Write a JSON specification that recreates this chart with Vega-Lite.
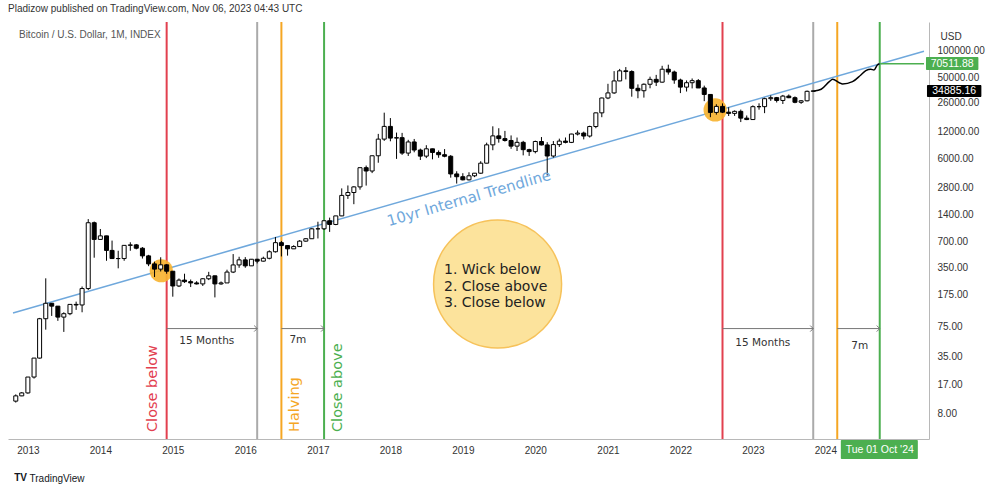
{
  "$schema": "https://vega.github.io/schema/vega-lite/v6.json",
  "width": 921,
  "height": 417,
  "autosize": {"type": "none"},
  "padding": {"left": 8, "top": 22, "right": 71, "bottom": 53},
  "background": "white",
  "config": {"view": {"stroke": null}},
  "title": {
    "text": "Pladizow published on TradingView.com, Nov 06, 2023 04:43 UTC",
    "anchor": "start",
    "frame": "group",
    "offset": 7,
    "font": "Liberation Sans",
    "fontSize": 10,
    "fontWeight": "normal",
    "color": "#333333"
  },
  "datasets": {
    "candles": [
      {"d": "2012-11-01", "o": 10.9, "h": 13.0, "l": 10.5, "c": 12.5},
      {"d": "2012-12-01", "o": 12.5, "h": 13.8, "l": 12.4, "c": 13.5},
      {"d": "2013-01-01", "o": 13.5, "h": 20.4, "l": 13.2, "c": 20.4},
      {"d": "2013-02-01", "o": 20.4, "h": 33.5, "l": 19.6, "c": 33.4},
      {"d": "2013-03-01", "o": 33.4, "h": 95, "l": 33, "c": 93},
      {"d": "2013-04-01", "o": 93, "h": 266, "l": 70, "c": 139},
      {"d": "2013-05-01", "o": 139, "h": 140, "l": 100, "c": 129},
      {"d": "2013-06-01", "o": 129, "h": 129, "l": 88, "c": 97},
      {"d": "2013-07-01", "o": 97, "h": 110, "l": 66, "c": 106},
      {"d": "2013-08-01", "o": 106, "h": 135, "l": 102, "c": 135},
      {"d": "2013-09-01", "o": 135, "h": 145, "l": 117, "c": 133},
      {"d": "2013-10-01", "o": 133, "h": 215, "l": 110, "c": 204},
      {"d": "2013-11-01", "o": 204, "h": 1242, "l": 196, "c": 1130},
      {"d": "2013-12-01", "o": 1130, "h": 1165, "l": 455, "c": 732},
      {"d": "2014-01-01", "o": 732, "h": 960, "l": 730, "c": 803},
      {"d": "2014-02-01", "o": 803, "h": 805, "l": 420, "c": 550},
      {"d": "2014-03-01", "o": 550, "h": 710, "l": 440, "c": 445},
      {"d": "2014-04-01", "o": 445, "h": 545, "l": 345, "c": 445},
      {"d": "2014-05-01", "o": 445, "h": 630, "l": 420, "c": 627},
      {"d": "2014-06-01", "o": 627, "h": 680, "l": 545, "c": 635},
      {"d": "2014-07-01", "o": 635, "h": 650, "l": 565, "c": 582},
      {"d": "2014-08-01", "o": 582, "h": 600, "l": 445, "c": 477},
      {"d": "2014-09-01", "o": 477, "h": 490, "l": 365, "c": 387},
      {"d": "2014-10-01", "o": 387, "h": 410, "l": 275, "c": 338},
      {"d": "2014-11-01", "o": 338, "h": 460, "l": 318, "c": 378},
      {"d": "2014-12-01", "o": 378, "h": 385, "l": 300, "c": 320},
      {"d": "2015-01-01", "o": 320, "h": 320, "l": 165, "c": 218},
      {"d": "2015-02-01", "o": 218, "h": 265, "l": 212, "c": 254},
      {"d": "2015-03-01", "o": 254, "h": 300, "l": 236, "c": 244},
      {"d": "2015-04-01", "o": 244, "h": 258, "l": 212, "c": 236},
      {"d": "2015-05-01", "o": 236, "h": 247, "l": 227, "c": 230},
      {"d": "2015-06-01", "o": 230, "h": 267, "l": 218, "c": 263},
      {"d": "2015-07-01", "o": 263, "h": 315, "l": 254, "c": 284},
      {"d": "2015-08-01", "o": 284, "h": 285, "l": 162, "c": 230},
      {"d": "2015-09-01", "o": 230, "h": 245, "l": 225, "c": 236},
      {"d": "2015-10-01", "o": 236, "h": 333, "l": 236, "c": 313},
      {"d": "2015-11-01", "o": 313, "h": 500, "l": 305, "c": 377},
      {"d": "2015-12-01", "o": 377, "h": 466, "l": 350, "c": 430},
      {"d": "2016-01-01", "o": 430, "h": 462, "l": 350, "c": 368},
      {"d": "2016-02-01", "o": 368, "h": 440, "l": 367, "c": 437},
      {"d": "2016-03-01", "o": 437, "h": 441, "l": 392, "c": 416},
      {"d": "2016-04-01", "o": 416, "h": 467, "l": 412, "c": 448},
      {"d": "2016-05-01", "o": 448, "h": 551, "l": 436, "c": 531},
      {"d": "2016-06-01", "o": 531, "h": 780, "l": 520, "c": 673},
      {"d": "2016-07-01", "o": 673, "h": 704, "l": 470, "c": 624},
      {"d": "2016-08-01", "o": 624, "h": 630, "l": 480, "c": 573},
      {"d": "2016-09-01", "o": 573, "h": 629, "l": 570, "c": 608},
      {"d": "2016-10-01", "o": 608, "h": 720, "l": 603, "c": 700},
      {"d": "2016-11-01", "o": 700, "h": 756, "l": 690, "c": 745},
      {"d": "2016-12-01", "o": 745, "h": 980, "l": 744, "c": 964},
      {"d": "2017-01-01", "o": 964, "h": 1160, "l": 750, "c": 965},
      {"d": "2017-02-01", "o": 965, "h": 1200, "l": 935, "c": 1190},
      {"d": "2017-03-01", "o": 1190, "h": 1290, "l": 890, "c": 1080},
      {"d": "2017-04-01", "o": 1080, "h": 1350, "l": 1060, "c": 1350},
      {"d": "2017-05-01", "o": 1350, "h": 2760, "l": 1340, "c": 2300},
      {"d": "2017-06-01", "o": 2300, "h": 2980, "l": 2100, "c": 2480},
      {"d": "2017-07-01", "o": 2480, "h": 2920, "l": 1830, "c": 2870},
      {"d": "2017-08-01", "o": 2870, "h": 4750, "l": 2670, "c": 4730},
      {"d": "2017-09-01", "o": 4730, "h": 5000, "l": 2970, "c": 4340},
      {"d": "2017-10-01", "o": 4340, "h": 6470, "l": 4110, "c": 6450},
      {"d": "2017-11-01", "o": 6450, "h": 11400, "l": 5380, "c": 9950},
      {"d": "2017-12-01", "o": 9950, "h": 19800, "l": 9500, "c": 13850},
      {"d": "2018-01-01", "o": 13850, "h": 17200, "l": 9400, "c": 10220},
      {"d": "2018-02-01", "o": 10220, "h": 11790, "l": 5950, "c": 10330},
      {"d": "2018-03-01", "o": 10330, "h": 11700, "l": 6600, "c": 6920},
      {"d": "2018-04-01", "o": 6920, "h": 9770, "l": 6420, "c": 9240},
      {"d": "2018-05-01", "o": 9240, "h": 9990, "l": 7060, "c": 7490},
      {"d": "2018-06-01", "o": 7490, "h": 7770, "l": 5780, "c": 6390},
      {"d": "2018-07-01", "o": 6390, "h": 8490, "l": 6070, "c": 7730},
      {"d": "2018-08-01", "o": 7730, "h": 7750, "l": 5880, "c": 7030},
      {"d": "2018-09-01", "o": 7030, "h": 7410, "l": 6120, "c": 6630},
      {"d": "2018-10-01", "o": 6630, "h": 7680, "l": 6200, "c": 6370},
      {"d": "2018-11-01", "o": 6370, "h": 6570, "l": 3650, "c": 4020},
      {"d": "2018-12-01", "o": 4020, "h": 4310, "l": 3130, "c": 3740},
      {"d": "2019-01-01", "o": 3740, "h": 4100, "l": 3400, "c": 3450},
      {"d": "2019-02-01", "o": 3450, "h": 4200, "l": 3390, "c": 3830},
      {"d": "2019-03-01", "o": 3830, "h": 4120, "l": 3700, "c": 4100},
      {"d": "2019-04-01", "o": 4100, "h": 5600, "l": 4050, "c": 5320},
      {"d": "2019-05-01", "o": 5320, "h": 9070, "l": 5320, "c": 8570},
      {"d": "2019-06-01", "o": 8570, "h": 13880, "l": 7450, "c": 10820},
      {"d": "2019-07-01", "o": 10820, "h": 13200, "l": 9070, "c": 10080},
      {"d": "2019-08-01", "o": 10080, "h": 12320, "l": 9330, "c": 9600},
      {"d": "2019-09-01", "o": 9600, "h": 10950, "l": 7730, "c": 8290},
      {"d": "2019-10-01", "o": 8290, "h": 10370, "l": 7300, "c": 9150},
      {"d": "2019-11-01", "o": 9150, "h": 9510, "l": 6520, "c": 7560},
      {"d": "2019-12-01", "o": 7560, "h": 7740, "l": 6430, "c": 7190},
      {"d": "2020-01-01", "o": 7190, "h": 9560, "l": 6870, "c": 9350},
      {"d": "2020-02-01", "o": 9350, "h": 10500, "l": 8450, "c": 8550},
      {"d": "2020-03-01", "o": 8550, "h": 9190, "l": 3850, "c": 6410},
      {"d": "2020-04-01", "o": 6410, "h": 9460, "l": 6150, "c": 8630},
      {"d": "2020-05-01", "o": 8630, "h": 10070, "l": 8120, "c": 9450},
      {"d": "2020-06-01", "o": 9450, "h": 10380, "l": 8910, "c": 9140},
      {"d": "2020-07-01", "o": 9140, "h": 11430, "l": 8980, "c": 11350},
      {"d": "2020-08-01", "o": 11350, "h": 12470, "l": 10950, "c": 11650},
      {"d": "2020-09-01", "o": 11650, "h": 12080, "l": 9880, "c": 10780},
      {"d": "2020-10-01", "o": 10780, "h": 14100, "l": 10370, "c": 13800},
      {"d": "2020-11-01", "o": 13800, "h": 19800, "l": 13200, "c": 19700},
      {"d": "2020-12-01", "o": 19700, "h": 29300, "l": 17600, "c": 28990},
      {"d": "2021-01-01", "o": 28990, "h": 41950, "l": 28130, "c": 33100},
      {"d": "2021-02-01", "o": 33100, "h": 58350, "l": 32300, "c": 45200},
      {"d": "2021-03-01", "o": 45200, "h": 61780, "l": 44950, "c": 58800},
      {"d": "2021-04-01", "o": 58800, "h": 64850, "l": 47040, "c": 57700},
      {"d": "2021-05-01", "o": 57700, "h": 59590, "l": 30000, "c": 37300},
      {"d": "2021-06-01", "o": 37300, "h": 41300, "l": 28800, "c": 35040},
      {"d": "2021-07-01", "o": 35040, "h": 42320, "l": 29300, "c": 41460},
      {"d": "2021-08-01", "o": 41460, "h": 50500, "l": 37330, "c": 47100},
      {"d": "2021-09-01", "o": 47100, "h": 52900, "l": 39600, "c": 43800},
      {"d": "2021-10-01", "o": 43800, "h": 67000, "l": 43300, "c": 61300},
      {"d": "2021-11-01", "o": 61300, "h": 69000, "l": 53250, "c": 57000},
      {"d": "2021-12-01", "o": 57000, "h": 59100, "l": 42000, "c": 46300},
      {"d": "2022-01-01", "o": 46300, "h": 47950, "l": 32950, "c": 38480},
      {"d": "2022-02-01", "o": 38480, "h": 45800, "l": 34300, "c": 43160},
      {"d": "2022-03-01", "o": 43160, "h": 48200, "l": 37200, "c": 45540},
      {"d": "2022-04-01", "o": 45540, "h": 47450, "l": 37700, "c": 37650},
      {"d": "2022-05-01", "o": 37650, "h": 40000, "l": 26700, "c": 31800},
      {"d": "2022-06-01", "o": 31800, "h": 31900, "l": 17600, "c": 19930},
      {"d": "2022-07-01", "o": 19930, "h": 24650, "l": 18800, "c": 23300},
      {"d": "2022-08-01", "o": 23300, "h": 25200, "l": 19600, "c": 20050},
      {"d": "2022-09-01", "o": 20050, "h": 22800, "l": 18150, "c": 19430},
      {"d": "2022-10-01", "o": 19430, "h": 20990, "l": 18200, "c": 20490},
      {"d": "2022-11-01", "o": 20490, "h": 21450, "l": 15500, "c": 17170},
      {"d": "2022-12-01", "o": 17170, "h": 18400, "l": 16300, "c": 16550},
      {"d": "2023-01-01", "o": 16550, "h": 23950, "l": 16500, "c": 23130},
      {"d": "2023-02-01", "o": 23130, "h": 25250, "l": 21400, "c": 23150},
      {"d": "2023-03-01", "o": 23150, "h": 29180, "l": 19550, "c": 28480},
      {"d": "2023-04-01", "o": 28480, "h": 31000, "l": 26900, "c": 29250},
      {"d": "2023-05-01", "o": 29250, "h": 29800, "l": 25800, "c": 27200},
      {"d": "2023-06-01", "o": 27200, "h": 31400, "l": 24800, "c": 30480},
      {"d": "2023-07-01", "o": 30480, "h": 31800, "l": 28860, "c": 29230},
      {"d": "2023-08-01", "o": 29230, "h": 30200, "l": 25300, "c": 25940},
      {"d": "2023-09-01", "o": 25940, "h": 27480, "l": 24900, "c": 26960},
      {"d": "2023-10-01", "o": 26960, "h": 35200, "l": 26550, "c": 34500},
      {"d": "2023-11-01", "o": 34500, "h": 35300, "l": 34100, "c": 34885.16}
    ],
    "vlines": [
      {"d": "2014-12-01", "k": "below"},
      {"d": "2016-03-01", "k": "months"},
      {"d": "2016-07-01", "k": "halving"},
      {"d": "2017-02-01", "k": "above"},
      {"d": "2022-08-01", "k": "below"},
      {"d": "2023-11-01", "k": "months"},
      {"d": "2024-03-01", "k": "halving"},
      {"d": "2024-10-01", "k": "above"}
    ],
    "trend": [
      {"d": "2012-10-18", "p": 108},
      {"d": "2025-05-12", "p": 98000}
    ],
    "projection": [
      {"d": "2023-11-06", "p": 34885.16},
      {"d": "2023-12-11", "p": 36370},
      {"d": "2024-01-21", "p": 44330},
      {"d": "2024-02-07", "p": 47180},
      {"d": "2024-03-11", "p": 43180},
      {"d": "2024-03-28", "p": 41750},
      {"d": "2024-05-17", "p": 44330},
      {"d": "2024-06-28", "p": 52770},
      {"d": "2024-07-23", "p": 59020},
      {"d": "2024-08-17", "p": 61190},
      {"d": "2024-09-02", "p": 60090},
      {"d": "2024-09-19", "p": 68440},
      {"d": "2024-10-01", "p": 70511.88}
    ],
    "hot": [
      {"d": "2014-11-04", "p": 324},
      {"d": "2022-06-25", "p": 21250}
    ],
    "bigcircle": [
      {"d": "2019-06-25", "p": 229.4}
    ],
    "target": [
      {"d": "2024-10-01", "d2": "2025-05-12", "p": 70511.88}
    ],
    "arrows": [
      {"d": "2014-12-01", "d2": "2016-03-01", "p": 72},
      {"d": "2016-07-01", "d2": "2017-02-01", "p": 72},
      {"d": "2022-08-01", "d2": "2023-11-01", "p": 72},
      {"d": "2024-03-01", "d2": "2024-10-01", "p": 72}
    ],
    "rotlabels": [
      {"d": "2014-09-25", "p": 4.88, "t": "Close below", "k": "below"},
      {"d": "2016-09-08", "p": 4.88, "t": "Halving", "k": "halving"},
      {"d": "2017-04-13", "p": 4.88, "t": "Close above", "k": "above"}
    ],
    "spanlabels": [
      {"d": "2015-06-21", "p": 52, "t": "15 Months"},
      {"d": "2016-09-22", "p": 53.4, "t": "7m"},
      {"d": "2023-02-20", "p": 49.8, "t": "15 Months"},
      {"d": "2024-06-22", "p": 45.8, "t": "7m"}
    ],
    "trendlabel": [
      {"d": "2019-02-01", "p": 2150, "t": "10yr Internal Trendline"}
    ],
    "circletext": [
      {"d": "2018-09-28", "p": 330, "t": "1. Wick below\n2. Close above\n3. Close below"}
    ],
    "header": [
      {"d": "2012-11-17", "p": 149300, "t": "Bitcoin / U.S. Dollar, 1M, INDEX"}
    ],
    "logo": [
      {"d": "2012-11-25", "p": 1.476, "t": "TV"}
    ],
    "boxes": [
      {"d": "2025-05-22", "d2": "2026-02-10", "p": 84300, "p2": 60100, "k": "trend"},
      {"d": "2025-05-27", "d2": "2026-02-25", "p": 40660, "p2": 29770, "k": "price"},
      {"d": "2024-03-19", "d2": "2025-04-11", "p": 3.96, "p2": 2.42, "k": "trend"}
    ],
    "boxtext": [
      {"d": "2025-10-01", "p": 70511.88, "t": "70511.88"},
      {"d": "2025-10-11", "p": 34885.16, "t": "34885.16"},
      {"d": "2024-10-01", "p": 3.05, "t": "Tue 01 Oct '24"}
    ]
  },
  "layer": [
    {
      "data": {"name": "vlines"},
      "mark": {"type": "rule", "strokeWidth": 2},
      "encoding": {
        "x": {
          "field": "d", "type": "temporal",
          "scale": {"type": "utc", "domain": [{"year": 2012, "month": 10, "date": 18, "utc": true}, {"year": 2025, "month": 5, "date": 12, "utc": true}], "nice": false},
          "axis": {
            "values": [{"year": 2013, "utc": true}, {"year": 2014, "utc": true}, {"year": 2015, "utc": true}, {"year": 2016, "utc": true}, {"year": 2017, "utc": true}, {"year": 2018, "utc": true}, {"year": 2019, "utc": true}, {"year": 2020, "utc": true}, {"year": 2021, "utc": true}, {"year": 2022, "utc": true}, {"year": 2023, "utc": true}, {"year": 2024, "utc": true}],
            "format": "%Y",
            "ticks": false,
            "grid": false,
            "domainColor": "#b8b8b8",
            "labelFont": "Liberation Sans",
            "labelFontSize": 10,
            "labelColor": "#333333",
            "labelPadding": 6,
            "labelFlush": false,
            "labelOverlap": false,
            "title": "TradingView",
            "titleX": 21,
            "titleY": 39,
            "titleAlign": "left",
            "titleBaseline": "middle",
            "titleFont": "Liberation Sans",
            "titleFontSize": 10,
            "titleFontWeight": "normal",
            "titleColor": "#131722"
          }
        },
        "color": {
          "field": "k", "type": "nominal",
          "scale": {"domain": ["below", "months", "halving", "above"], "range": ["#e2404f", "#aaaaaa", "#f5a623", "#4caf50"]},
          "legend": null
        }
      }
    },
    {
      "data": {"name": "trend"},
      "mark": {"type": "line", "color": "#6fa8dc", "strokeWidth": 1.5, "clip": true},
      "encoding": {
        "x": {"field": "d", "type": "temporal"},
        "y": {"field": "p", "type": "quantitative"}
      }
    },
    {
      "data": {"name": "bigcircle"},
      "mark": {"type": "point", "shape": "circle", "filled": true, "fill": "#fce39c", "stroke": "#f6c25a", "strokeWidth": 1.5, "opacity": 1, "size": 16384},
      "encoding": {
        "x": {"field": "d", "type": "temporal"},
        "y": {"field": "p", "type": "quantitative"}
      }
    },
    {
      "data": {"name": "hot"},
      "mark": {"type": "point", "shape": "circle", "filled": true, "color": "#f7b22d", "opacity": 0.9, "size": 540},
      "encoding": {
        "x": {"field": "d", "type": "temporal"},
        "y": {"field": "p", "type": "quantitative"}
      }
    },
    {
      "data": {"name": "candles"},
      "mark": {"type": "rule", "color": "#000000", "strokeWidth": 1},
      "encoding": {
        "x": {"field": "d", "type": "temporal"},
        "y": {
          "field": "l", "type": "quantitative",
          "scale": {"type": "log", "domain": [4.07, 209400], "nice": false},
          "axis": {
            "orient": "right",
            "values": [8, 17, 35, 75, 175, 350, 700, 1400, 2800, 6000, 12000, 26000, 50000, 100000],
            "format": ".2f",
            "ticks": false,
            "grid": false,
            "domainColor": "#b8b8b8",
            "labelFont": "Liberation Sans",
            "labelFontSize": 10,
            "labelColor": "#333333",
            "labelPadding": 8,
            "labelOverlap": false,
            "labelFlush": false,
            "title": "USD",
            "titleAngle": 0,
            "titleX": 11,
            "titleY": 14,
            "titleAlign": "left",
            "titleBaseline": "middle",
            "titleFont": "Liberation Sans",
            "titleFontSize": 10,
            "titleFontWeight": "normal",
            "titleColor": "#333333"
          }
        },
        "y2": {"field": "h"}
      }
    },
    {
      "data": {"name": "candles"},
      "mark": {"type": "bar", "size": 4, "stroke": "#000000", "strokeWidth": 1},
      "encoding": {
        "x": {"field": "d", "type": "temporal"},
        "y": {"field": "o", "type": "quantitative"},
        "y2": {"field": "c"},
        "fill": {"condition": {"test": "datum.c < datum.o", "value": "#000000"}, "value": "#ffffff"}
      }
    },
    {
      "data": {"name": "projection"},
      "mark": {"type": "line", "color": "#000000", "strokeWidth": 1.5, "interpolate": "monotone"},
      "encoding": {
        "x": {"field": "d", "type": "temporal"},
        "y": {"field": "p", "type": "quantitative"}
      }
    },
    {
      "data": {"name": "target"},
      "mark": {"type": "rule", "color": "#4caf50", "strokeWidth": 1.5},
      "encoding": {
        "x": {"field": "d", "type": "temporal"},
        "x2": {"field": "d2"},
        "y": {"field": "p", "type": "quantitative"}
      }
    },
    {
      "data": {"name": "arrows"},
      "mark": {"type": "rule", "color": "#777777", "strokeWidth": 1},
      "encoding": {
        "x": {"field": "d", "type": "temporal"},
        "x2": {"field": "d2"},
        "y": {"field": "p", "type": "quantitative"}
      }
    },
    {
      "data": {"name": "arrows"},
      "mark": {"type": "point", "shape": "M-1,-1L0,0L-1,1", "filled": false, "stroke": "#777777", "strokeWidth": 1, "size": 36, "opacity": 1},
      "encoding": {
        "x": {"field": "d2", "type": "temporal"},
        "y": {"field": "p", "type": "quantitative"}
      }
    },
    {
      "data": {"name": "rotlabels"},
      "mark": {"type": "text", "angle": 270, "align": "left", "baseline": "middle", "font": "DejaVu Sans", "fontSize": 14.5},
      "encoding": {
        "x": {"field": "d", "type": "temporal"},
        "y": {"field": "p", "type": "quantitative"},
        "text": {"field": "t"},
        "color": {"field": "k", "type": "nominal", "legend": null}
      }
    },
    {
      "data": {"name": "spanlabels"},
      "mark": {"type": "text", "align": "center", "baseline": "middle", "font": "DejaVu Sans", "fontSize": 10.5, "color": "#333333"},
      "encoding": {
        "x": {"field": "d", "type": "temporal"},
        "y": {"field": "p", "type": "quantitative"},
        "text": {"field": "t"}
      }
    },
    {
      "data": {"name": "trendlabel"},
      "mark": {"type": "text", "angle": -16, "align": "center", "baseline": "middle", "font": "DejaVu Sans", "fontSize": 15, "color": "#6fa8dc"},
      "encoding": {
        "x": {"field": "d", "type": "temporal"},
        "y": {"field": "p", "type": "quantitative"},
        "text": {"field": "t"}
      }
    },
    {
      "data": {"name": "circletext"},
      "mark": {"type": "text", "align": "left", "baseline": "middle", "lineBreak": "\n", "lineHeight": 16.5, "font": "DejaVu Sans", "fontSize": 14, "color": "#222222"},
      "encoding": {
        "x": {"field": "d", "type": "temporal"},
        "y": {"field": "p", "type": "quantitative"},
        "text": {"field": "t"}
      }
    },
    {
      "data": {"name": "header"},
      "mark": {"type": "text", "align": "left", "baseline": "middle", "font": "Liberation Sans", "fontSize": 10, "color": "#555555"},
      "encoding": {
        "x": {"field": "d", "type": "temporal"},
        "y": {"field": "p", "type": "quantitative"},
        "text": {"field": "t"}
      }
    },
    {
      "data": {"name": "logo"},
      "mark": {"type": "text", "align": "center", "baseline": "middle", "font": "Liberation Sans", "fontSize": 10, "fontWeight": "bold", "color": "#131722"},
      "encoding": {
        "x": {"field": "d", "type": "temporal"},
        "y": {"field": "p", "type": "quantitative"},
        "text": {"field": "t"}
      }
    },
    {
      "data": {"name": "boxes"},
      "mark": {"type": "rect", "cornerRadius": 1},
      "encoding": {
        "x": {"field": "d", "type": "temporal"},
        "x2": {"field": "d2"},
        "y": {"field": "p", "type": "quantitative"},
        "y2": {"field": "p2"},
        "fill": {"field": "k", "type": "nominal", "scale": {"domain": ["trend", "price"], "range": ["#4caf50", "#000000"]}, "legend": null}
      }
    },
    {
      "data": {"name": "boxtext"},
      "mark": {"type": "text", "align": "center", "baseline": "middle", "font": "Liberation Sans", "fontSize": 10.5, "color": "#ffffff"},
      "encoding": {
        "x": {"field": "d", "type": "temporal"},
        "y": {"field": "p", "type": "quantitative"},
        "text": {"field": "t"}
      }
    }
  ]
}
